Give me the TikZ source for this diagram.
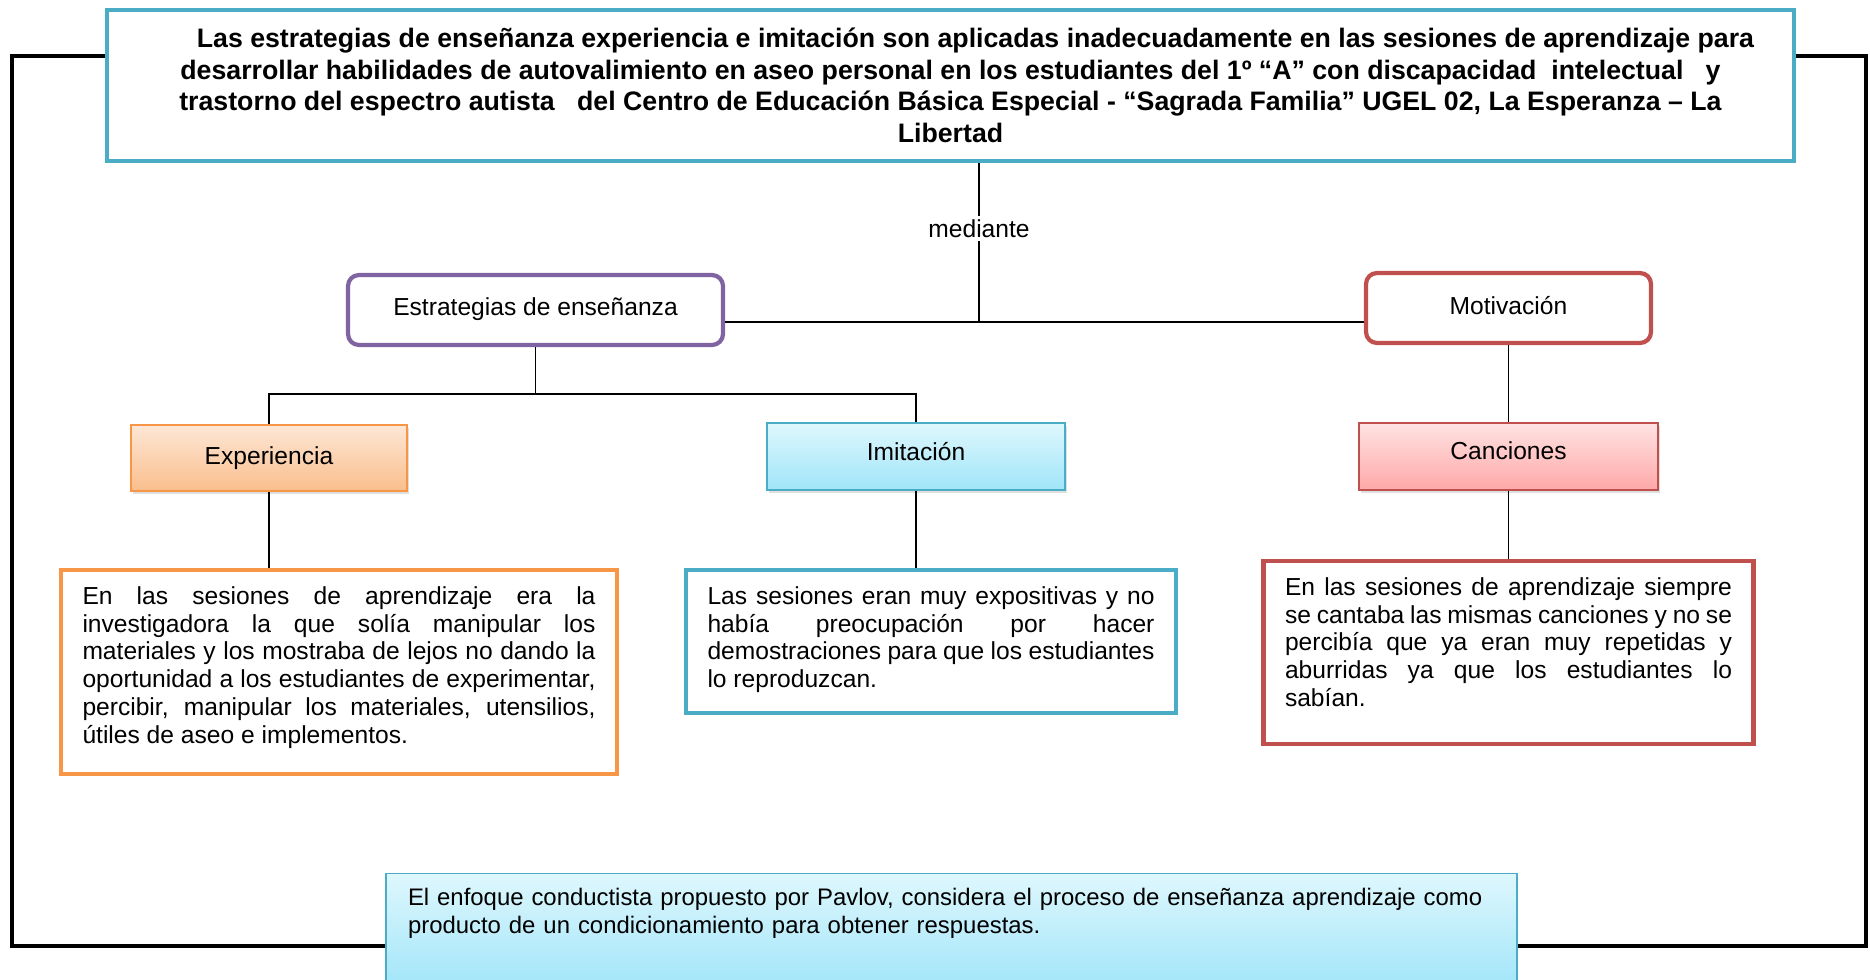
\documentclass[tikz,border=0pt]{standalone}
\usepackage{fontspec}
\setmainfont{Liberation Sans}
\usetikzlibrary{positioning,shadows}
\definecolor{mapteal}{RGB}{75,172,198}
\definecolor{mappurple}{RGB}{128,100,162}
\definecolor{mapred}{RGB}{192,80,77}
\definecolor{maporange}{RGB}{247,150,70}
\definecolor{exptop}{RGB}{253,231,214}
\definecolor{expbot}{RGB}{250,190,140}
\definecolor{imitop}{RGB}{222,247,253}
\definecolor{imibot}{RGB}{160,229,249}
\definecolor{cantop}{RGB}{255,226,226}
\definecolor{canbot}{RGB}{255,168,168}

\begin{document}
\begin{tikzpicture}[line width=0.8pt, every node/.style={font=\fontsize{14}{15.8}\selectfont}]
  \tikzset{
      headbox/.style={draw, line width=2.4pt, rounded corners=0.22cm, fill=white, minimum height=1.4cm, text depth=0.12cm},
      subbox/.style={draw, line width=0.9pt, minimum height=1.33cm, drop shadow={opacity=0.25, shadow xshift=0.04cm, shadow yshift=-0.06cm}},
      notebox/.style={draw, line width=2.4pt, fill=white, align=justify, anchor=north, inner xsep=0.43cm, inner ysep=0.33cm}
  }
  \useasboundingbox (0,0) rectangle (37.4,-19.6);
  \draw[line width=2.6pt] (0.24,-1.12) rectangle (37.32,-18.92);

  \node[draw=mapteal, line width=2.4pt, fill=white, align=center, minimum width=33.74cm, minimum height=3.02cm,
        font=\fontsize{15.2}{18}\selectfont\bfseries] (prob) at (19.01,-1.71)
      {\hspace*{1cm}Las estrategias de enseñanza experiencia e imitación son aplicadas inadecuadamente en las sesiones de aprendizaje para\\
       desarrollar habilidades de autovalimiento en aseo personal en los estudiantes del 1º “A” con discapacidad~ intelectual~~ y\\
       trastorno del espectro autista~~ del Centro de Educación Básica Especial - “Sagrada Familia” UGEL 02, La Esperanza – La\\
       Libertad};

  \node[headbox, draw=mappurple, minimum width=7.5cm] (estr) at (10.71,-6.2) {Estrategias de enseñanza};
  \node[headbox, draw=mapred, minimum width=5.7cm] (motv) at (30.17,-6.16) {Motivación};

  \node[subbox, draw=maporange, top color=exptop, bottom color=expbot, minimum width=5.52cm] (expe) at (5.38,-9.16) {Experiencia};
  \node[subbox, draw=mapteal, top color=imitop, bottom color=imibot, minimum width=5.96cm, text depth=0.22cm] (imit) at (18.32,-9.13) {Imitación};
  \node[subbox, draw=mapred, top color=cantop, bottom color=canbot, minimum width=5.98cm, text depth=0.22cm] (canc) at (30.17,-9.13) {Canciones};

  \node[notebox, draw=maporange, text width=10.26cm, text depth=3.06cm] (nexpe) at (6.78,-11.36)
      {En las sesiones de aprendizaje era la\linebreak
       investigadora la que solía manipular los\linebreak
       materiales y los mostraba de lejos no dando la\linebreak
       oportunidad a los estudiantes de experimentar,\linebreak
       percibir, manipular los materiales, utensilios,\linebreak
       útiles de aseo e implementos.};
  \node[notebox, draw=mapteal, text width=8.94cm, text depth=1.84cm] (nimit) at (18.62,-11.36)
      {Las sesiones eran muy expositivas y no\linebreak
       había preocupación por hacer\linebreak
       demostraciones para que los estudiantes\linebreak
       lo reproduzcan.};
  \node[notebox, draw=mapred, text width=8.94cm, text depth=2.64cm] (ncanc) at (30.17,-11.18)
      {En las sesiones de aprendizaje siempre\linebreak
       se cantaba las mismas canciones y no se\linebreak
       percibía que ya eran muy repetidas y\linebreak
       aburridas ya que los estudiantes lo\linebreak
       sabían.};

  \node[draw=mapteal, line width=0.6pt, top color=imitop, bottom color=imibot, anchor=north, align=left,
        text width=21.74cm, inner xsep=0.44cm, inner ysep=0.3cm, text depth=1.4cm,
        font=\fontsize{13.6}{15.8}\selectfont] (enfq) at (19.03,-17.46)
      {El enfoque conductista propuesto por Pavlov, considera el proceso de enseñanza aprendizaje como\\
       producto de un condicionamiento para obtener respuestas.};

  % connectors
  \coordinate (hub) at (19.58,-6.44);
  \coordinate (split) at (10.71,-7.88);
  \draw (prob.south -| hub) -- node[pos=0.41, fill=white, inner sep=2pt] (medi) {mediante} (hub);
  \draw (estr.east |- hub) -- (motv.west |- hub);
  \draw (estr.south) -- (split);
  \draw (expe.north) -- (expe.north |- split) -- (imit.north |- split) -- (imit.north);
  \draw (motv.south) -- (canc.north);
  \draw (expe.south) -- (expe.south |- nexpe.north);
  \draw (imit.south) -- (imit.south |- nimit.north);
  \draw (canc.south) -- (canc.south |- ncanc.north);
\end{tikzpicture}
\end{document}
